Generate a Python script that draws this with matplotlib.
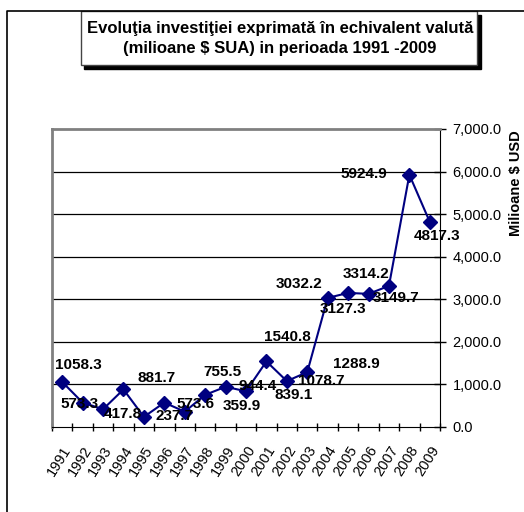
import matplotlib
matplotlib.use("Agg")
import matplotlib.pyplot as plt
from matplotlib.patches import Rectangle
from matplotlib.lines import Line2D
from matplotlib.ticker import FuncFormatter, FixedLocator

plt.rcParams['font.family'] = ['Liberation Sans', 'DejaVu Sans']

years = [str(y) for y in range(1991, 2010)]
values = [1058.3, 573.3, 417.8, 881.7, 237.7, 573.6, 359.9, 755.5, 944.4, 839.1,
          1540.8, 1078.7, 1288.9, 3032.2, 3149.7, 3127.3, 3314.2, 5924.9, 4817.3]
# label offsets (pixels) as Excel placed them
lab_dx = [16, -3, 20, 33, 31, 31, 57, 17, 32, 48, 21, 34, 49, -29, 48, -26, -23, -46, 7]
lab_dy = [17, -1, -5, 11, 1, -1, 6, 23, 1, -4, 24, 0, 8, 14, -5, -15, 12, 1, -14]

W, H = 524, 512
fig = plt.figure(figsize=(W / 100, H / 100), dpi=100)

def fx(x): return x / W
def fy(y): return 1 - y / H

# outer chart frame (left + top only visible)
fig.add_artist(Line2D([fx(7), fx(7), 1.0], [0.0, fy(11), fy(11)], color='black', lw=1.2))

# title box with shadow
fig.add_artist(Rectangle((fx(84), fy(69)), fx(481) - fx(84), fy(15) - fy(69), facecolor='black', edgecolor='black'))
fig.add_artist(Rectangle((fx(81), fy(65)), fx(477) - fx(81), fy(11) - fy(65), facecolor='white', edgecolor='#444444', lw=1))
fig.text(fx(280), fy(28), 'Evoluţia investiţiei exprimată în echivalent valută', ha='center', va='center',
         fontsize=12, fontweight='bold')
fig.text(fx(280), fy(48), '(milioane $ SUA) in perioada 1991 -2009', ha='center', va='center',
         fontsize=12, fontweight='bold')

ax = fig.add_axes([fx(52), fy(427), fx(440) - fx(52), fy(129) - fy(427)])
x = list(range(len(years)))
ax.plot(x, values, color='#000080', lw=1.5, marker='D', markersize=7.5,
        markerfacecolor='#000080', markeredgecolor='#000080')
for i, v in enumerate(values):
    ax.annotate('%.1f' % v, (i, v), xytext=(lab_dx[i], lab_dy[i]), textcoords='offset pixels',
                ha='center', va='center', fontsize=11, fontweight='bold')

ax.set_xlim(-0.5, len(years) - 0.5)
ax.set_ylim(0, 7000)
ax.yaxis.tick_right()
ax.yaxis.set_label_position('right')
ax.set_yticks(range(0, 7001, 1000))
ax.yaxis.set_major_formatter(FuncFormatter(lambda v, p: '{:,.1f}'.format(v)))
ax.tick_params(axis='y', direction='inout', length=8, width=1, labelsize=10.5, pad=5)
for g in range(1000, 7000, 1000):
    ax.axhline(g, color='black', lw=0.9, zorder=0)

ax.xaxis.set_major_locator(FixedLocator([i - 0.5 for i in range(len(years) + 1)]))
ax.xaxis.set_minor_locator(FixedLocator(x))
ax.tick_params(axis='x', which='major', direction='inout', length=6, width=1, labelbottom=False)
ax.tick_params(axis='x', which='minor', length=0, labelsize=10.5, pad=12)
ax.set_xticks(x, minor=True)
ax.set_xticklabels(years, minor=True, rotation=58, ha='right', rotation_mode='anchor')

for s in ['left', 'top']:
    ax.spines[s].set_color('#808080')
    ax.spines[s].set_linewidth(2)
ax.spines['right'].set_color('black')
ax.spines['bottom'].set_color('black')

fig.text(fx(516), fy(183), 'Milioane $ USD', rotation=90, ha='center', va='center',
         fontsize=10.5, fontweight='bold')

fig.savefig('out.png', dpi=100)
